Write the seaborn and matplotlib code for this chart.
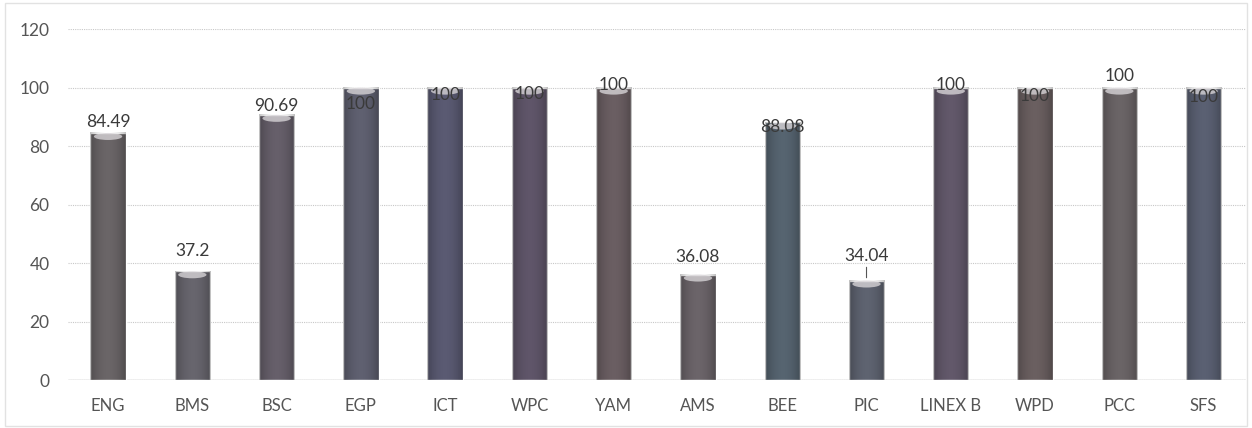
import matplotlib
matplotlib.use("Agg")
import matplotlib.pyplot as plt
import seaborn as sns
import pandas as pd
import numpy as np

categories = ["ENG", "BMS", "BSC", "EGP", "ICT", "WPC", "YAM", "AMS", "BEE", "PIC",
              "LINEX B", "WPD", "PCC", "SFS"]
values = [84.49, 37.2, 90.69, 100, 100, 100, 100, 36.08, 88.08, 34.04, 100, 100, 100, 100]
value_labels = ["84.49", "37.2", "90.69", "100", "100", "100", "100", "36.08", "88.08",
                "34.04", "100", "100", "100", "100"]
y_ticks = [0, 20, 40, 60, 80, 100, 120]

# styling
bar_colors = ["#6a6567", "#67656d", "#665f6a", "#5f6070", "#5a5a72", "#5f5569", "#6a5e62",
              "#6b6469", "#566470", "#5e6370", "#62586a", "#6a5f60", "#6a6466", "#5a6072"]
label_dy_px = [11, 20, 9, -16, -7, -6, 3, 18, -5, 25, 3, -8, 12, -9]

sns.set_theme(style="white")
plt.rcParams["font.family"] = ["Lato", "DejaVu Sans"]

df = pd.DataFrame({"cat": categories, "val": values})

fig = plt.figure(figsize=(12.52, 4.28), dpi=100)
ax = fig.add_axes([0.054, 0.112, 0.941, 0.820])

sns.barplot(data=df, x="cat", y="val", hue="cat", palette=bar_colors, legend=False,
            width=0.42, saturation=1, ax=ax, zorder=3)

# subtle vertical shading & top highlight on each bar
for p in ax.patches:
    x0, w, h = p.get_x(), p.get_width(), p.get_height()
    grad = np.linspace(0, 1, 64)
    shade = np.abs(grad - 0.5) * 2
    img = np.zeros((1, 64, 4))
    img[..., 3] = 0.25 * shade ** 2
    ax.imshow(img, extent=(x0, x0 + w, 0, h), aspect="auto", zorder=4,
              interpolation="bilinear")
    ax.add_patch(matplotlib.patches.Ellipse((x0 + w / 2, h - 1.2), w * 0.8, 2.4,
                                            facecolor="#d6d3d6", edgecolor="none",
                                            alpha=0.8, zorder=5))

ax.set_xlim(-0.48, 13.5)
ax.set_ylim(0, 120)
ax.set_yticks(y_ticks)
ax.grid(axis="y", color="#c8c8c8", linestyle=(0, (1, 1)), linewidth=0.8, zorder=0)
ax.axhline(0, color="#b8b8b8", linewidth=1.0, zorder=2)
for s in ax.spines.values():
    s.set_visible(False)
ax.set_xlabel("")
ax.set_ylabel("")
ax.tick_params(axis="x", length=0, pad=13, labelsize=12, labelcolor="#555555")
ax.tick_params(axis="y", length=0, pad=13, labelsize=12.5, labelcolor="#555555")

for i, (v, lab) in enumerate(zip(values, value_labels)):
    dy = label_dy_px[i]
    ax.annotate(lab, (i, v), xytext=(0, dy), textcoords="offset pixels",
                ha="center", va="center", fontsize=12.5, color="#3a3a3a", zorder=6)
    if dy > 22:
        ax.annotate("", (i, v), xytext=(0, dy - 9), textcoords="offset pixels",
                    arrowprops=dict(arrowstyle="-", color="#555555", lw=0.8), zorder=6)

fig.patches.append(matplotlib.patches.Rectangle((0.004, 0.004), 0.992, 0.99,
                                                transform=fig.transFigure, fill=False,
                                                edgecolor="#e2e2e2", linewidth=1))
fig.savefig("out.png", dpi=100)
